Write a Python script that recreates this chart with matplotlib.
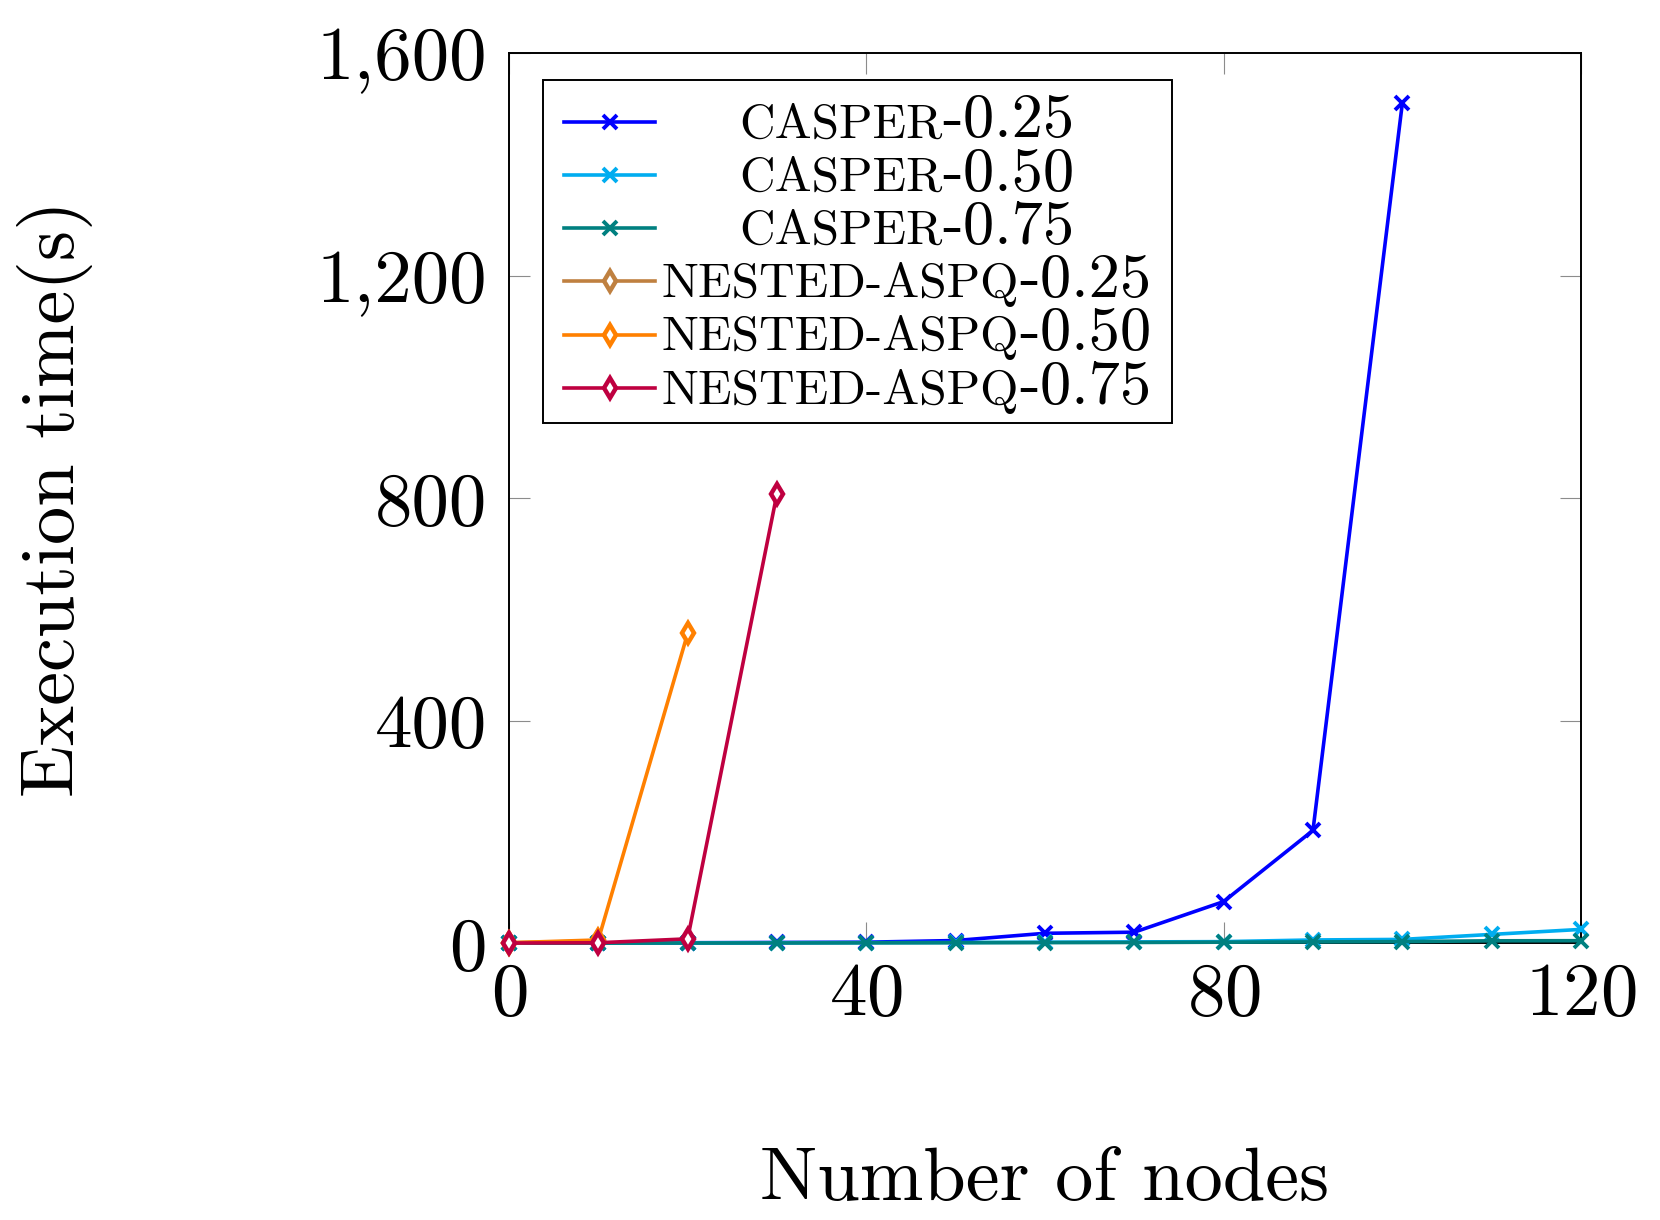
import matplotlib
matplotlib.use("Agg")
from matplotlib import pyplot as plt
from matplotlib.ticker import FuncFormatter
from matplotlib.offsetbox import AnchoredOffsetbox, VPacker, HPacker, TextArea, DrawingArea
from matplotlib.lines import Line2D

plt.rcParams['font.family'] = 'serif'
plt.rcParams['font.serif'] = ['cmr10']
plt.rcParams['mathtext.fontset'] = 'cm'
plt.rcParams['axes.formatter.use_mathtext'] = True

# data (execution time in seconds)
nodes_casper = [0, 10, 20, 30, 40, 50, 60, 70, 80, 90, 100, 110, 120]
casper_025 = [0.5, 0.8, 1, 1.5, 2, 5, 18, 20, 75, 203, 1510]
casper_050 = [0.3, 0.5, 0.8, 1, 1.2, 1.5, 2, 2.5, 3, 6, 7, 16, 25]
casper_075 = [0.2, 0.3, 0.5, 0.6, 0.8, 1, 1.2, 1.5, 2, 2.5, 3, 4.5, 4.7]
nodes_nested = [0, 10, 20, 30]
nested_025 = [1, 4]
nested_050 = [1, 6, 557]
nested_075 = [0.5, 1, 8, 808]

series = [
    ("CASPER", "-0.25", nodes_casper[:len(casper_025)], casper_025, (0, 0, 1), "x"),
    ("CASPER", "-0.50", nodes_casper[:len(casper_050)], casper_050, (0, 0.68, 0.94), "x"),
    ("CASPER", "-0.75", nodes_casper[:len(casper_075)], casper_075, (0, 0.5, 0.5), "x"),
    ("NESTED-ASPQ", "-0.25", nodes_nested[:len(nested_025)], nested_025, (0.75, 0.5, 0.25), "d"),
    ("NESTED-ASPQ", "-0.50", nodes_nested[:len(nested_050)], nested_050, (1, 0.5, 0), "d"),
    ("NESTED-ASPQ", "-0.75", nodes_nested[:len(nested_075)], nested_075, (0.75, 0, 0.25), "d"),
]

fig = plt.figure(figsize=(16.6, 12.2), dpi=100)
ax = fig.add_axes([0.3066, 0.2268, 0.6458, 0.7295])

lw = 2.6
mstyle = {"x": dict(marker="x", ms=9.5, mew=2.8),
          "d": dict(marker="d", ms=10.5, mew=3.2, mfc="white")}
for name, suf, xs, ys, col, mk in series:
    ax.plot(xs, ys, color=col, lw=lw, clip_on=False, zorder=3, **mstyle[mk])

ax.set_xlim(0, 120)
ax.set_ylim(0, 1600)
ax.set_xticks([0, 40, 80, 120])
ax.set_yticks([0, 400, 800, 1200, 1600])
ax.yaxis.set_major_formatter(FuncFormatter(lambda v, p: f"{v:,.0f}"))
ax.tick_params(direction="in", top=True, right=True, length=15, width=0.8,
               color="#8c8c8c", labelsize=54, labelcolor="black")
ax.tick_params(axis="y", pad=16)
ax.tick_params(axis="x", pad=14)
for s in ax.spines.values():
    s.set_linewidth(1.4)

ax.set_xlabel("Number of nodes", fontsize=55)
ax.xaxis.set_label_coords(0.5, -0.267)
ax.xaxis.label.set_va("center")
ax.set_ylabel("Execution time(s)", fontsize=55)
ax.yaxis.set_label_coords(-0.4235, 0.5)
ax.yaxis.label.set_va("center")

# legend with small-caps style names
rows = []
for name, suf, xs, ys, col, mk in series:
    da = DrawingArea(71, 30)
    ln = Line2D([5, 38, 71], [15, 15, 15], color=col, lw=lw, markevery=[1],
                **mstyle[mk])
    da.add_artist(ln)
    lab = HPacker(children=[TextArea(name, textprops=dict(size=35.5)),
                            TextArea(suf, textprops=dict(size=45))],
                  align="baseline", pad=0, sep=0)
    col_box = VPacker(children=[lab], width=486, align="center", pad=0, sep=0)
    rows.append(HPacker(children=[da, col_box], align="center", pad=0, sep=6))
rows_box = VPacker(children=rows, align="left", pad=0, sep=-1.5)
box = HPacker(children=[DrawingArea(8, 1),
                        VPacker(children=[DrawingArea(1, 8), rows_box, DrawingArea(1, 3)],
                                align="left", pad=0, sep=0),
                        DrawingArea(14, 1)],
              align="center", pad=0, sep=0)
leg = AnchoredOffsetbox(loc="upper left", child=box, pad=0.2, borderpad=0,
                        frameon=True, bbox_to_anchor=(0.0317, 0.970),
                        bbox_transform=ax.transAxes)
leg.patch.set_boxstyle("square", pad=0)
leg.patch.set_edgecolor("black")
leg.patch.set_linewidth(1.4)
leg.zorder = 5
ax.add_artist(leg)

fig.savefig("out.png", dpi=100)
